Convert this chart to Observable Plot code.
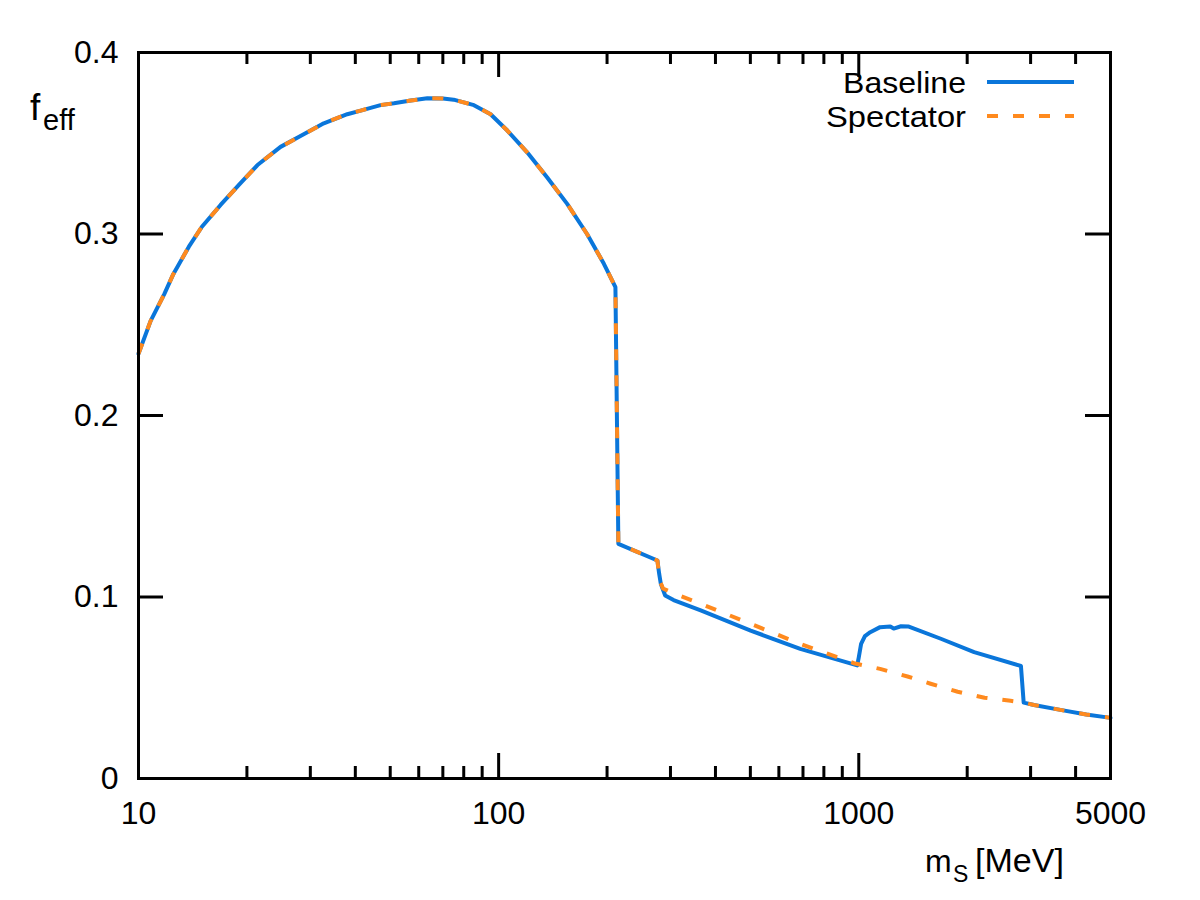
<!DOCTYPE html>
<html><head><meta charset="utf-8">
<script src="https://cdn.jsdelivr.net/npm/d3@7"></script>
<script src="https://cdn.jsdelivr.net/npm/@observablehq/plot@0.6"></script>
<style>body{margin:0;background:#fff} svg{display:block}</style>
</head><body><div id="chart"></div>
<script>
// ---- data ----
const baselineMass = [10, 10.8, 11.8, 12.5, 13.8, 15, 16.9, 19.2, 21.4, 24.8,
  27.6, 32.7, 38, 41.4, 47, 51.2, 57, 63.4, 70, 75,
  85.4, 95, 105.7, 120, 136.6, 155, 176, 196, 211, 215,
  276, 279, 282, 290, 306, 364, 501, 688, 990, 1000,
  1015, 1040, 1076, 1146, 1223, 1250, 1310, 1377, 1690, 2091,
  2820, 2870, 3066, 3628, 4284, 5000];
const baselineF = [0.234, 0.252, 0.267, 0.278, 0.293, 0.304, 0.316, 0.328, 0.338, 0.348,
  0.353, 0.361, 0.366, 0.368, 0.371, 0.372, 0.3735, 0.3748, 0.3746, 0.374,
  0.371, 0.366, 0.357, 0.345, 0.331, 0.3166, 0.300, 0.2836, 0.2707, 0.1293,
  0.1201, 0.113, 0.1073, 0.1008, 0.0983, 0.0926, 0.0815, 0.0714, 0.0623, 0.0668,
  0.0742, 0.0785, 0.0806, 0.0834, 0.0837, 0.0826, 0.0839, 0.0837, 0.077, 0.0696,
  0.0620, 0.0418, 0.0405, 0.0378, 0.0353, 0.0334];

const spectatorMass = [10, 10.8, 11.8, 12.5, 13.8, 15, 16.9, 19.2, 21.4, 24.8,
  27.6, 32.7, 38, 41.4, 47, 51.2, 57, 63.4, 70, 75,
  85.4, 95, 105.7, 120, 136.6, 155, 176, 196, 211, 215,
  276, 280, 286, 313, 364, 501, 688, 970, 1146, 1366,
  1583, 1882, 2235, 2640, 2870, 3066, 3628, 4284, 5000];
const spectatorF = [0.234, 0.252, 0.267, 0.278, 0.293, 0.304, 0.316, 0.328, 0.338, 0.348,
  0.353, 0.361, 0.366, 0.368, 0.371, 0.372, 0.3735, 0.3748, 0.3746, 0.374,
  0.371, 0.366, 0.357, 0.345, 0.331, 0.3166, 0.300, 0.2836, 0.2707, 0.1293,
  0.1201, 0.109, 0.1047, 0.1013, 0.0963, 0.0852, 0.0742, 0.0635, 0.0604, 0.0562,
  0.0522, 0.0478, 0.0445, 0.0428, 0.0418, 0.0405, 0.0378, 0.0353, 0.0334];

const seriesNames = ["Baseline", "Spectator"];
const yTicks = [0, 0.1, 0.2, 0.3, 0.4];
const yTickLabels = ["0", "0.1", "0.2", "0.3", "0.4"];
const xTicks = [10, 100, 1000, 5000];
const xTickLabels = ["10", "100", "1000", "5000"];
const xMajorTicks = [10, 100, 1000];
const xMinorTicks = [20, 30, 40, 50, 60, 70, 80, 90, 200, 300, 400, 500, 600, 700, 800, 900, 2000, 3000, 4000];
const yLabelMain = "f", yLabelSub = "eff";
const xLabelMain = "m", xLabelSub = "S", xLabelUnit = "[MeV]";

// ---- layout ----
const W = 1200, H = 900, mL = 138, mR = 90, mT = 52, mB = 122;
const plotW = W - mL - mR, plotH = H - mT - mB;
const BLUE = "#0a76da", ORANGE = "#ff8a1e";
const FONT = "'Liberation Sans', Arial, Helvetica, sans-serif";

const baseline = baselineMass.map((m, i) => ({m, f: baselineF[i]}));
const spectator = spectatorMass.map((m, i) => ({m, f: spectatorF[i]}));

const chart = Plot.plot({
  width: W, height: H,
  marginLeft: mL, marginRight: mR, marginTop: mT, marginBottom: mB,
  style: {fontFamily: FONT, background: "#fff", color: "#000"},
  x: {type: "log", domain: [10, 5000]},
  y: {domain: [0, 0.4]},
  marks: [
    Plot.tickX(xMajorTicks, {x: d => d, insetTop: plotH - 25, stroke: "#000", strokeWidth: 3}),
    Plot.tickX(xMajorTicks, {x: d => d, insetBottom: plotH - 25, stroke: "#000", strokeWidth: 3}),
    Plot.tickX(xMinorTicks, {x: d => d, insetTop: plotH - 12, stroke: "#000", strokeWidth: 3}),
    Plot.tickX(xMinorTicks, {x: d => d, insetBottom: plotH - 12, stroke: "#000", strokeWidth: 3}),
    Plot.tickY(yTicks, {y: d => d, insetRight: plotW - 25, stroke: "#000", strokeWidth: 3}),
    Plot.tickY(yTicks, {y: d => d, insetLeft: plotW - 25, stroke: "#000", strokeWidth: 3}),
    Plot.line(baseline, {x: "m", y: "f", stroke: BLUE, strokeWidth: 4, strokeLinejoin: "round"}),
    Plot.line(spectator, {x: "m", y: "f", stroke: ORANGE, strokeWidth: 4, strokeDasharray: "11,15", strokeLinecap: "butt"}),
    Plot.frame({stroke: "#000", strokeWidth: 3}),
    Plot.axisX(xTicks, {tickSize: 0, tickPadding: 23, fontSize: 32, label: null,
      tickFormat: d => xTickLabels[xTicks.indexOf(d)]}),
    Plot.axisY(yTicks, {tickSize: 0, tickPadding: 20, fontSize: 32, label: null,
      tickFormat: d => yTickLabels[yTicks.indexOf(d)]})
  ]
});
document.getElementById("chart").appendChild(chart);

// ---- axis labels and legend (real SVG text) ----
const svg = d3.select(chart);
const g = svg.append("g").style("font-family", FONT).attr("fill", "#000").attr("text-anchor", "start");
const txt = (x, y, size, s) => g.append("text").attr("x", x).attr("y", y)
  .attr("text-anchor", "start").style("font-size", size + "px").text(s);

txt(30, 120, 37, yLabelMain);
txt(43, 130, 29, yLabelSub);

txt(925, 872, 32, xLabelMain);
txt(953, 882, 23, xLabelSub);
txt(975, 872, 33, xLabelUnit).attr("textLength", 89).attr("lengthAdjust", "spacingAndGlyphs");

const legendY = [82, 116];
const legendW = [123, 140];
seriesNames.forEach((name, i) => {
  txt(966, legendY[i], 30, name).attr("dy", "0.35em").attr("text-anchor", "end")
    .attr("textLength", legendW[i]).attr("lengthAdjust", "spacingAndGlyphs");
  const ln = g.append("line").attr("x1", 987).attr("x2", 1074)
    .attr("y1", legendY[i]).attr("y2", legendY[i])
    .attr("stroke", i === 0 ? BLUE : ORANGE).attr("stroke-width", 4);
  if (i === 1) ln.attr("stroke-dasharray", "11,15");
});
</script>
</body></html>
